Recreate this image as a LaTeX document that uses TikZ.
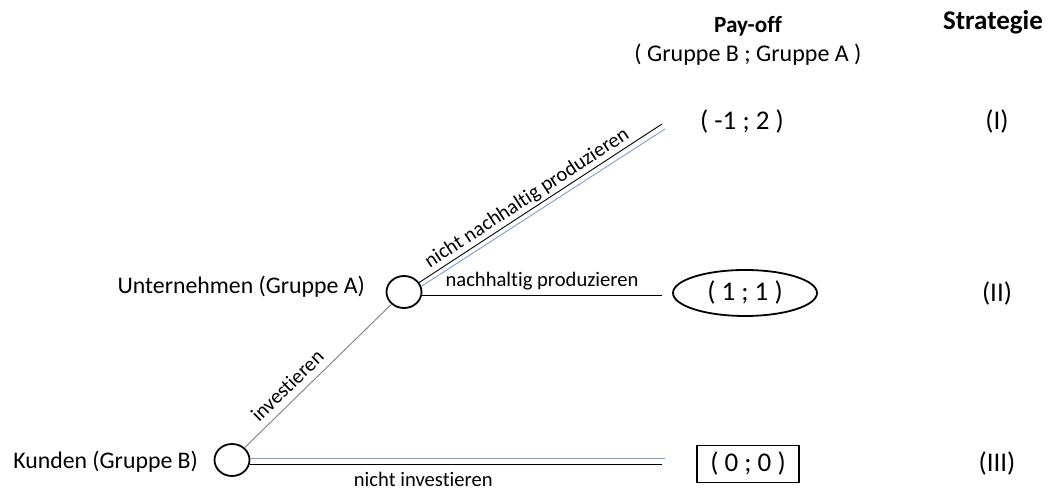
\documentclass[tikz,border=0pt]{standalone}
\usepackage{fontspec}
\setmainfont{Carlito}[Ligatures={NoCommon}]
\usetikzlibrary{shapes.geometric}

\definecolor{zugblau}{RGB}{125,155,215}

\tikzset{
  spieler/.style={draw, ellipse, line width=0.9pt, minimum width=17.5pt, minimum height=16pt, inner sep=0pt},
  spielername/.style={anchor=east, font=\fontsize{11.9}{14}\selectfont},
  zug/.style={line width=0.45pt},
  zugtext/.style={font=\fontsize{10.3}{12}\selectfont, inner sep=1pt, text=black},
  auszahlung/.style={font=\fontsize{13.5}{15}\selectfont},
  kopf/.style={font=\bfseries\fontsize{11.6}{14}\selectfont}
}

\begin{document}
\begin{tikzpicture}[x=0.5pt, y=-0.5pt]
    \useasboundingbox (0,0) rectangle (1049,490);

    % Spieler
    \node[spieler] (kun) at (232,460) {};
    \node[spieler] (unt) at (404,292) {};
    \node[spielername] (kunText) at (205,462) {Kunden (Gruppe B)};
    \node[spielername] (untText) at (372,287) {Unternehmen (Gruppe A)};

    % freie Enden
    \coordinate (nnEnd) at (662,124);
    \coordinate (nnBlauEnd) at (665,129);
    \coordinate (nhEnd) at (662,295);
    \coordinate (niEnd) at (662,464);
    \coordinate (niBlauEnd) at (665,458);

    % Zuege
    \draw[zug, draw=gray] (kun) -- node[zugtext, sloped, above=2.5pt, pos=0.36] (invText) {investieren} (unt);
    \draw[zug] (unt.32) -- node[zugtext, sloped, above, pos=0.47] (nnText) {nicht nachhaltig produzieren} (nnEnd);
    \draw[zug, zugblau] (unt.18) -- (nnBlauEnd);
    \draw[zug] (unt.-10) -- node[zugtext, above=1.5pt] (nhText) {nachhaltig produzieren} (unt.-10 -| nhEnd);
    \draw[zug] (kun.east |- niEnd) -- node[zugtext, below=3pt, pos=0.42] (niText) {nicht investieren} (niEnd);
    \draw[zug, zugblau] (kun.east |- niBlauEnd) -- (niBlauEnd);

    % Pay-offs
    \node[kopf] (payoff) at (748,26) {Pay-off};
    \node[font=\fontsize{12}{14}\selectfont] (gruppen) at (748,55) {( Gruppe B ; Gruppe A )};
    \node[kopf, font=\bfseries\fontsize{13.5}{16}\selectfont] (strategie) at (993,22) {Strategie};
    \node[auszahlung] (po1) at (742,122) {( -1 ; 2 )};
    \node[auszahlung, draw, ellipse, line width=0.9pt, minimum width=72pt, minimum height=23pt, inner sep=0pt] (po2) at (745,293) {( 1 ; 1 )};
    \node[auszahlung, draw, line width=0.9pt, minimum width=51pt, minimum height=18.5pt, inner sep=0pt] (po3) at (748,464) {( 0 ; 0 )};

    % Strategien
    \node[auszahlung] (st1) at (997,122) {(I)};
    \node[auszahlung] (st2) at (997,294) {(II)};
    \node[auszahlung] (st3) at (997,464) {(III)};
\end{tikzpicture}
\end{document}
